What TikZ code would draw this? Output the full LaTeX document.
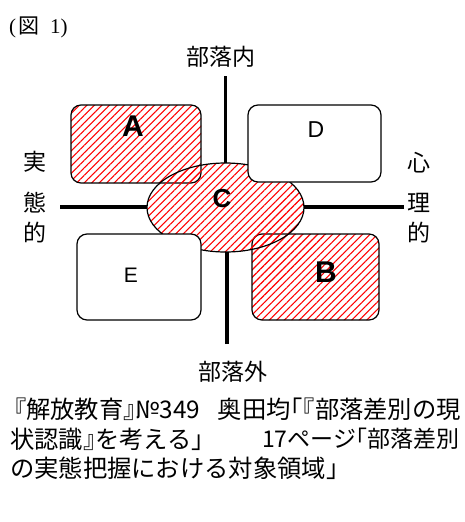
\documentclass[tikz,border=0pt]{standalone}
\usepackage{fontspec}
\setmainfont{Liberation Serif}
\newfontfamily\jp{Noto Sans CJK JP}
\newfontfamily\jph[RawFeature=+halt]{Noto Sans CJK JP}
\newfontfamily\lsans{Liberation Sans}
\usetikzlibrary{shapes.geometric,patterns.meta}
\begin{document}
\begin{tikzpicture}[x=1pt,y=-1pt,
  hatch/.style={pattern={Lines[angle=45,distance=5.3pt,line width=1.1pt]},pattern color=red},
  rbox/.style={rectangle,rounded corners=10pt,draw=black,line width=1.2pt,inner sep=0pt},
  axis/.style={line width=3.5pt},
  jlab/.style={font=\jp\fontsize{23}{23}\selectfont,inner sep=0pt},
  bigl/.style={font=\lsans\bfseries\fontsize{30}{30}\selectfont,inner sep=0pt},
  smalll/.style={font=\lsans\fontsize{23}{23}\selectfont,inner sep=0pt},
  src/.style={font=\jp\fontsize{24.3}{24.3}\selectfont,inner sep=0pt}]
\useasboundingbox (0,0) rectangle (464,522);
% title
\node[anchor=west,inner sep=0pt,font=\fontsize{21}{21}\selectfont] (title) at (9,27) {(\hspace{2pt}{\jp 図}\hspace{11pt}1)};
% ellipse (for axis ends)
\node[ellipse,minimum width=157pt,minimum height=89pt,inner sep=0pt] (C) at (225.5,207.5) {};
\coordinate (top) at (225.5,76);
\coordinate (bot) at (227,344);
\coordinate (lft) at (60,207);
\coordinate (rgt) at (404,207);
\draw[axis] (top) -- (C.north);
\draw[axis] (bot) -- (bot |- C.south);
\draw[axis] (lft) -- (lft -| C.west);
\draw[axis] (rgt) -- (rgt -| C.east);
% hatched boxes
\node[rbox,hatch,minimum width=130pt,minimum height=78pt] (A) at (136,144) {};
\node[rbox,hatch,minimum width=127pt,minimum height=86pt] (B) at (315.5,277) {};
\path[hatch,draw=black,line width=1.2pt] (C.center) ellipse [x radius=78.5pt,y radius=44.5pt];
% white boxes
\node[rbox,fill=white,minimum width=133pt,minimum height=77pt] (D) at (314.5,143.5) {};
\node[rbox,fill=white,minimum width=124pt,minimum height=86pt] (E) at (139,277) {};
% letters
\node[bigl] (la) at (133,126) {A};
\node[bigl] (lb) at (326,272) {B};
\node[bigl,font=\lsans\bfseries\fontsize{26}{26}\selectfont] (lc) at (222,199) {C};
\node[smalll] (ld) at (316,129.5) {D};
\node[smalll,font=\lsans\fontsize{21}{21}\selectfont] (le) at (131,275) {E};
% axis labels
\node[jlab] (in) at (221,57) {部落内};
\node[jlab] (out) at (233,372) {部落外};
\node[jlab] (j1) at (35,162) {実};
\node[jlab] (j2) at (35,203) {態};
\node[jlab] (j3) at (35,233) {的};
\node[jlab] (s1) at (419,163) {心};
\node[jlab] (s2) at (419,203) {理};
\node[jlab] (s3) at (419,233) {的};
% source text
\node[src,anchor=west] (t1a) at (14,409) {{\jph 『}解放教育{\jph 』}№349};
\node[src,anchor=east] (t1b) at (461,409) {奥田均{\jph 「『}部落差別の現};
\node[src,anchor=west] (t2a) at (10,439) {状認識{\jph 』}を考える」};
\node[src,anchor=east,font=\jp\fontsize{23}{23}\selectfont] (t2b) at (460,439) {17ページ{\jph 「}部落差別};
\node[src,anchor=west] (t3) at (10,468) {の実態把握における対象領域」};
\end{tikzpicture}
\end{document}
